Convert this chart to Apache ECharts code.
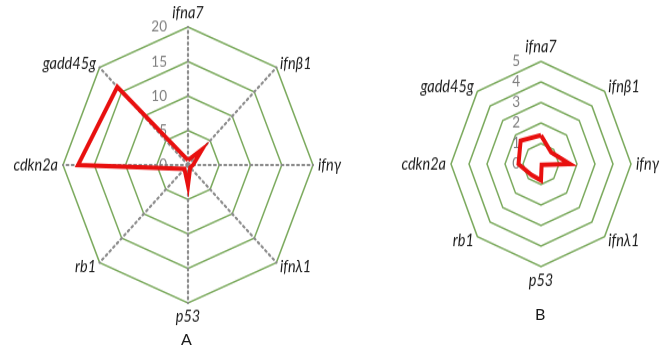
<!DOCTYPE html>
<html>
<head>
<meta charset="utf-8">
<script src="https://cdn.jsdelivr.net/npm/echarts@6/dist/echarts.min.js"></script>
<style>
  html, body { margin: 0; padding: 0; background: #fff; width: 665px; height: 347px; overflow: hidden; }
  .layer { position: absolute; left: 0; top: 0; width: 665px; height: 347px; }
  #panelA { transform-origin: 188px 165px; transform: scaleY(1.104); }
  #panelB { transform-origin: 541px 164px; transform: scaleY(1.14); }
</style>
</head>
<body>
<div id="panelA" class="layer"></div>
<div id="panelB" class="layer"></div>
<div id="captions" class="layer"></div>
<script>
// Genes, in the order the radar lays its spokes out (counter-clockwise from the top)
const genes = ['ifna7', 'gadd45g', 'cdkn2a', 'rb1', 'p53', 'ifn\u03bb1', 'ifn\u03b3', 'ifn\u03b21'];

// Panel A: relative expression, scale 0–20
const valuesA = [0.7, 16, 17.6, 0.8, 3.0, 0.5, 0.8, 3.2];
const maxA = 20;
const splitsA = 4;

// Panel B: relative expression, scale 0–5
const valuesB = [1.4, 1.6, 1.25, 0.75, 0.8, 0.05, 1.6, 0.8];
const maxB = 5;
const splitsB = 5;

const panelLabels = ['A', 'B'];

const ringColor = '#7aa95c';
const nameFont = { color: '#1a1a1a', fontStyle: 'italic', fontFamily: 'Lato', fontSize: 14.5 };

function indicators(max) {
  return genes.map((g, i) => {
    const ind = { name: g, max: max, min: 0 };
    if (i === 0) {
      // value labels only along the first (top) spoke, set a little left of it
      ind.axisLabel = {
        show: true, color: '#7f7f7f', fontFamily: 'Lato', fontSize: 13.5,
        margin: 13, padding: [0, 8, 0, 0]
      };
    }
    return ind;
  });
}

function radarOption(center, radius, max, splits, values, showSpokes) {
  return {
    animation: false,
    radar: {
      center: center,
      radius: radius,
      shape: 'polygon',
      startAngle: 90,
      splitNumber: splits,
      nameGap: 5,
      axisName: nameFont,
      indicator: indicators(max),
      axisLabel: { show: false, margin: 13 },
      axisTick: { show: false },
      splitArea: { show: false },
      splitLine: { lineStyle: { color: ringColor, width: 1.5 } },
      axisLine: {
        show: showSpokes,
        lineStyle: { color: '#8c8c8c', width: 2.2, type: [1.8, 3.4] }
      }
    },
    series: [{
      type: 'radar',
      symbol: 'none',
      lineStyle: { color: '#e8100f', width: 4, join: 'miter' },
      data: [{ value: values }]
    }]
  };
}

const chartA = echarts.init(document.getElementById('panelA'), null, { renderer: 'canvas' });
chartA.setOption(radarOption([188, 165], 125, maxA, splitsA, valuesA, true));

const chartB = echarts.init(document.getElementById('panelB'), null, { renderer: 'canvas' });
chartB.setOption(radarOption([541, 164], 90, maxB, splitsB, valuesB, false));

const chartC = echarts.init(document.getElementById('captions'), null, { renderer: 'canvas' });
chartC.setOption({
  animation: false,
  title: [
    { text: panelLabels[0], left: 176, top: 327, textStyle: { fontFamily: 'Lato', fontWeight: 'normal', fontSize: 16, color: '#1a1a1a' } },
    { text: panelLabels[1], left: 530, top: 302, textStyle: { fontFamily: 'Lato', fontWeight: 'normal', fontSize: 16, color: '#1a1a1a' } }
  ]
});
</script>
</body>
</html>
